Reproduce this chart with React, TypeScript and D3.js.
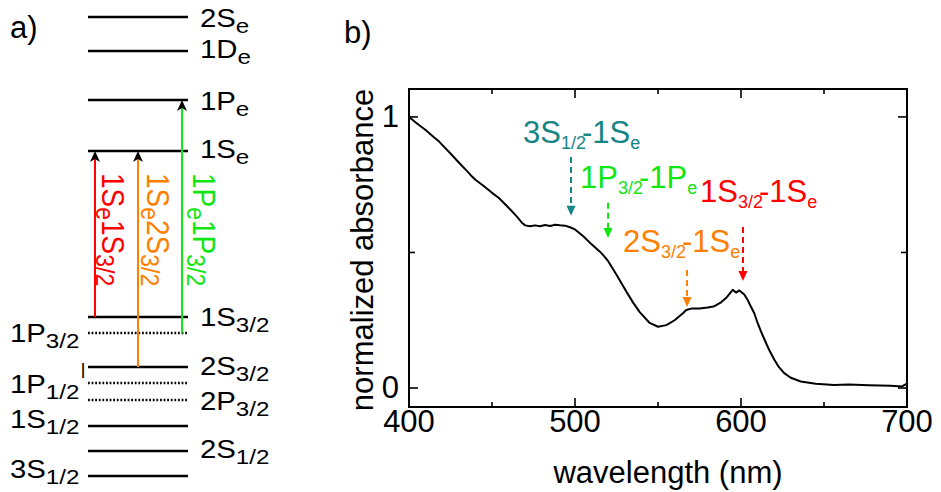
import React from "react";
import * as d3 from "d3";

// ---------------- Panel b data ----------------
const wavelength = [
  400, 405, 410, 415, 418, 420, 425, 430, 435, 438, 440, 445, 450, 454, 460, 465, 468, 470,
  473, 476, 479, 482, 485, 488, 491, 494, 497, 500, 505, 510, 515, 517, 520, 525, 531, 535,
  539, 545, 550, 555, 560, 565, 567, 570, 575, 580, 584, 588, 591, 595, 597, 599, 602, 604,
  606, 608, 610, 612.5, 615, 617, 620, 622.5, 626, 630, 636, 645, 656, 665, 677, 690, 697, 700,
];
const absorbance = [
  1.0, 0.975, 0.952, 0.925, 0.91, 0.897, 0.865, 0.832, 0.8, 0.78, 0.768, 0.745, 0.72, 0.702, 0.665, 0.632, 0.61, 0.6,
  0.597, 0.6, 0.597, 0.601, 0.598, 0.602, 0.6, 0.599, 0.593, 0.585, 0.56, 0.53, 0.503, 0.49, 0.468, 0.418, 0.355, 0.315,
  0.28, 0.24, 0.226, 0.232, 0.25, 0.276, 0.288, 0.293, 0.293, 0.297, 0.302, 0.316, 0.332, 0.362, 0.352, 0.36, 0.345, 0.325,
  0.3, 0.276, 0.24, 0.202, 0.167, 0.14, 0.105, 0.08, 0.055, 0.038, 0.024, 0.016, 0.011, 0.013, 0.01, 0.008, 0.006, 0.016,
];
const xTicks = [400, 500, 600, 700];
const xMinorTicks = [450, 550, 650];
const yTicks = [0, 1];
const yMinorTicks = [0.5];

// annotations (transition assignments)
const annMain1 = ["3S", "1P", "2S", "1S"];
const annSub1 = ["1/2", "3/2", "3/2", "3/2"];
const annMain2 = ["1S", "1P", "1S", "1S"];
const annSub2 = ["e", "e", "e", "e"];
const annColor = ["#168585", "#11e611", "#ff8000", "#ff0000"];
const annArrowNm = [497.6, 519.9, 567.5, 601.2];
const annArrowTop = [0.852, 0.683, 0.435, 0.594];
const annArrowTip = [0.635, 0.553, 0.299, 0.395];
const annTextNm = [468.7, 503, 528.9, 575.3];
const annTextVal = [0.904, 0.738, 0.502, 0.686];

// ---------------- Panel a data ----------------
const levelMain = ["2S", "1D", "1P", "1S", "1S", "1P", "2S", "1P", "2P", "1S", "2S", "3S"];
const levelSub = ["e", "e", "e", "e", "3/2", "3/2", "3/2", "1/2", "3/2", "1/2", "1/2", "1/2"];
const levelEnergy = [45.9, 42.5, 37.6, 32.5, 15.9, 14.3, 10.9, 9.3, 7.6, 5.0, 2.5, 0.0];
const levelLeftLabel = [false, false, false, false, false, true, false, true, false, true, false, true];
const levelDotted = [false, false, false, false, false, true, false, true, true, false, false, false];

const transFrom = [4, 6, 5];
const transTo = [3, 3, 2];
const transPos = [0.07, 0.5, 0.94];
const transMain1 = ["1S", "1S", "1P"];
const transSub1 = ["e", "e", "e"];
const transMain2 = ["1S", "2S", "1P"];
const transSub2 = ["3/2", "3/2", "3/2"];
const transColor = ["#ff0000", "#ff8000", "#11e611"];

const FONT = "'Liberation Sans', Arial, Helvetica, sans-serif";

export default function App() {
  // panel b scales
  const x = d3.scaleLinear().domain([400, 700]).range([409, 907]);
  const y = d3.scaleLinear().domain([-0.07, 1.103]).range([407, 89]);
  const pts = wavelength.map((w, i) => [w, absorbance[i]] as [number, number]);
  const line = d3
    .line<[number, number]>()
    .x((d) => x(d[0]))
    .y((d) => y(d[1]));

  // panel a scales
  const xa = d3.scaleLinear().domain([0, 1]).range([88, 188]);
  const ya = d3.scaleLinear().domain([0, 45.9]).range([476, 17]);

  const [x0, x1] = x.range();
  const [yb, yt] = y.range();

  const rightDy = [10, 7, 10, 7, 9, 9, 8, 10, 10, 2, 7, 2];

  return (
    <svg
      width={941}
      height={492}
      style={{ position: "absolute", left: 0, top: 0, background: "#fff" }}
      fontFamily={FONT}
    >
      <rect x={0} y={0} width={941} height={492} fill="#fff" />
      {/* ---------- Panel a ---------- */}
      <text x={10} y={38} fontSize={31}>a)</text>
      {levelEnergy.map((e, i) => (
        <line
          key={"lv" + i}
          x1={xa(0)}
          x2={xa(1)}
          y1={ya(e)}
          y2={ya(e)}
          stroke="#000"
          strokeWidth={levelDotted[i] ? 2.5 : 2.6}
          strokeDasharray={levelDotted[i] ? "1.8 1.8" : undefined}
        />
      ))}
      {levelEnergy.map((e, i) => {
        const lx = levelLeftLabel[i] ? 10 : 200;
        const ly = ya(e) + rightDy[i];
        return (
          <text key={"lt" + i} transform={`translate(${lx},${ly}) scale(1.15,1)`} fontSize={25.5}>
            {levelMain[i]}
            <tspan fontSize={21} dy={6}>{levelSub[i]}</tspan>
            {levelMain[i] === "1P" && levelSub[i] === "1/2" ? (
              <tspan fontSize={17} dx={1} dy={-24}>|</tspan>
            ) : null}
          </text>
        );
      })}
      {transFrom.map((f, i) => {
        const cx = xa(transPos[i]);
        const yFrom = ya(levelEnergy[f]);
        const yTo = ya(levelEnergy[transTo[i]]);
        return (
          <g key={"tr" + i}>
            <line x1={cx} x2={cx} y1={yFrom} y2={yTo + 8} stroke={transColor[i]} strokeWidth={2} />
            <path
              d={`M${cx},${yTo} L${cx + 5},${yTo + 11} L${cx},${yTo + 8} L${cx - 5},${yTo + 11} Z`}
              fill="#000"
            />
          </g>
        );
      })}
      {transFrom.map((f, i) => {
        const cx = xa(transPos[i]) + [7, 9, 11][i];
        return (
          <text
            key={"tl" + i}
            transform={`translate(${cx},173) scale(1.15,1) rotate(90)`}
            fontSize={28}
            fill={transColor[i]}
          >
            {transMain1[i]}
            <tspan fontSize={23} dy={5}>{transSub1[i]}</tspan>
            <tspan dy={-5}>{transMain2[i]}</tspan>
            <tspan fontSize={23} dy={5}>{transSub2[i]}</tspan>
          </text>
        );
      })}

      {/* ---------- Panel b ---------- */}
      <text x={344} y={43} fontSize={31}>b)</text>
      <path d={line(pts) || ""} fill="none" stroke="#000" strokeWidth={2} strokeLinejoin="round" />
      <rect x={x0} y={yt} width={x1 - x0} height={yb - yt} fill="none" stroke="#000" strokeWidth={2} />
      {xTicks.map((t) => (
        <g key={"xt" + t}>
          <line x1={x(t)} x2={x(t)} y1={yb} y2={yb - 9} stroke="#000" strokeWidth={1.6} />
          <line x1={x(t)} x2={x(t)} y1={yt} y2={yt + 9} stroke="#000" strokeWidth={1.6} />
          <text x={x(t)} y={432} fontSize={31} textAnchor="middle">{t}</text>
        </g>
      ))}
      {xMinorTicks.map((t) => (
        <g key={"xm" + t}>
          <line x1={x(t)} x2={x(t)} y1={yb} y2={yb - 5} stroke="#000" strokeWidth={1.6} />
          <line x1={x(t)} x2={x(t)} y1={yt} y2={yt + 5} stroke="#000" strokeWidth={1.6} />
        </g>
      ))}
      {yTicks.map((t) => (
        <g key={"yt" + t}>
          <line x1={x0} x2={x0 + 9} y1={y(t)} y2={y(t)} stroke="#000" strokeWidth={1.6} />
          <line x1={x1} x2={x1 - 9} y1={y(t)} y2={y(t)} stroke="#000" strokeWidth={1.6} />
          <text x={399} y={y(t) + 10} fontSize={31} textAnchor="end">{t}</text>
        </g>
      ))}
      {yMinorTicks.map((t) => (
        <g key={"ym" + t}>
          <line x1={x0} x2={x0 + 6} y1={y(t)} y2={y(t)} stroke="#000" strokeWidth={1.6} />
          <line x1={x1} x2={x1 - 6} y1={y(t)} y2={y(t)} stroke="#000" strokeWidth={1.6} />
        </g>
      ))}
      <text x={668} y={483} fontSize={31} textAnchor="middle">wavelength (nm)</text>
      <text transform={`translate(373,250) rotate(-90)`} fontSize={31} textAnchor="middle">
        normalized absorbance
      </text>

      {annArrowNm.map((w, i) => {
        const ax = x(w);
        const top = y(annArrowTop[i]);
        const tip = y(annArrowTip[i]);
        return (
          <g key={"an" + i}>
            <line
              x1={ax}
              x2={ax}
              y1={top}
              y2={tip - 9}
              stroke={annColor[i]}
              strokeWidth={2}
              strokeDasharray="6 4"
            />
            <path d={`M${ax},${tip} L${ax + 4.5},${tip - 10} L${ax - 4.5},${tip - 10} Z`} fill={annColor[i]} />
            <text x={x(annTextNm[i])} y={y(annTextVal[i])} fontSize={31} fill={annColor[i]}>
              {annMain1[i]}
              <tspan fontSize={18} dy={6}>{annSub1[i]}</tspan>
              <tspan dx={-4} dy={-6}>-</tspan>
              <tspan>{annMain2[i]}</tspan>
              <tspan fontSize={18} dy={6}>{annSub2[i]}</tspan>
            </text>
          </g>
        );
      })}
    </svg>
  );
}
